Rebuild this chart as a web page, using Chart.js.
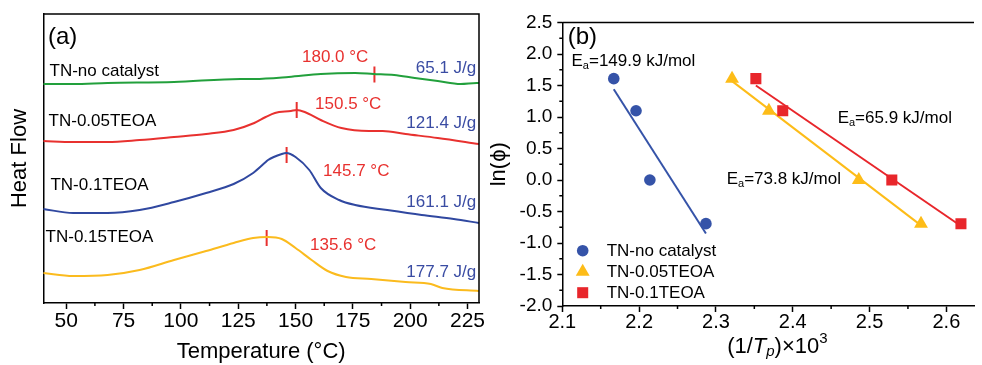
<!DOCTYPE html>
<html>
<head>
<meta charset="utf-8">
<title>DSC curves and Kissinger plot</title>
<script src="https://cdn.jsdelivr.net/npm/chart.js@4.4.1/dist/chart.umd.min.js"></script>
<style>
  html, body { margin: 0; padding: 0; background: #ffffff; overflow: hidden; }
  #panelA { position: absolute; left: 0; top: 0; }
  #panelB { position: absolute; left: 490px; top: 0; }
</style>
</head>
<body>
<canvas id="panelA" width="490" height="365"></canvas>
<canvas id="panelB" width="492" height="365"></canvas>
<script>
var FONT = '"Liberation Sans", Arial, Helvetica, sans-serif';

// ---- (a) DSC curves, heat flow in arbitrary units (curves stacked) ----
var tempTicks = [50, 75, 100, 125, 150, 175, 200, 225];

var noCatTemp = [40, 53, 68, 97, 126, 132, 147, 161, 176, 184, 193, 202, 212, 222, 229, 230];
var noCatFlow = [21.9, 21.9, 22.0, 22.1, 22.4, 22.4, 22.6, 22.9, 23.0, 22.9, 22.8, 22.5, 22.2, 21.9, 22.0, 22.0];

var teoa005Temp = [40, 53, 68, 82, 97, 111, 123, 132, 137, 141, 148, 150.5, 154, 161, 170, 182, 188, 198, 212, 230];
var teoa005Flow = [16.2, 16.1, 16.1, 16.3, 16.6, 16.9, 17.3, 18.0, 18.6, 19.0, 19.2, 19.3, 19.1, 18.3, 17.5, 17.2, 17.2, 16.9, 16.5, 15.9];

var teoa01Temp = [40, 53, 68, 82, 97, 111, 123, 131.5, 137, 138, 144, 146, 150, 156, 161, 169, 176, 190, 205, 219, 230];
var teoa01Flow = [9.4, 9.0, 9.0, 9.3, 10.1, 11.0, 11.9, 13.0, 14.1, 14.3, 14.9, 15.0, 14.6, 13.3, 11.5, 10.3, 9.8, 9.3, 8.8, 8.4, 8.0];

var teoa015Temp = [40, 53, 68, 82, 97, 111, 123, 131.5, 138, 144, 150, 157, 164, 172, 183, 198, 209, 214, 230];
var teoa015Flow = [3.0, 2.7, 2.8, 3.3, 4.3, 5.2, 6.0, 6.5, 6.6, 6.4, 5.5, 4.3, 3.2, 2.6, 2.4, 2.1, 1.9, 1.5, 1.2];

// peak markers (no catalyst, 0.05, 0.1, 0.15 TEOA)
var peakTemp = [184.4, 150.5, 146.1, 137.4];
var peakFlow = [22.85, 19.3, 14.8, 6.5];

// ---- (b) ln(heating rate) vs 1000/Tp ----
var invTicks = [2.1, 2.2, 2.3, 2.4, 2.5, 2.6];
var lnTicks = [-2.0, -1.5, -1.0, -0.5, 0.0, 0.5, 1.0, 1.5, 2.0, 2.5];

var lnRate = [1.609, 1.099, 0.0, -0.693];
var noCatInvT = [2.167, 2.196, 2.214, 2.287];
var teoa005InvT = [2.321, 2.369, 2.486, 2.567];
var teoa01InvT = [2.352, 2.387, 2.529, 2.619];

var noCatFitX = [2.167, 2.287];
var noCatFitY = [1.44, -0.85];
var teoa005FitX = [2.321, 2.567];
var teoa005FitY = [1.57, -0.72];
var teoa01FitX = [2.352, 2.619];
var teoa01FitY = [1.50, -0.73];

var GREEN = '#22a03c', RED = '#e8312f', BLUE = '#3048a0', YELLOW = '#fbbb1e';
var TXTBLUE = '#3a4ca3';
var MBLUE = '#3553a8', MYELLOW = '#fdbc18', MRED = '#e8262b';

Chart.defaults.font.family = FONT;
Chart.defaults.color = '#000';

function xy(xs, ys) {
    return xs.map(function (x, i) { return {x: x, y: ys[i]}; });
}

function midpoints(ticks) {
    var out = [];
    for (var i = 1; i < ticks.length; i++) out.push((ticks[i - 1] + ticks[i]) / 2);
    return out;
}

// parts: [text, size, dy, italic]
function drawParts(ctx, parts, x, y, align, color) {
    var total = 0;
    parts.forEach(function (p) {
        ctx.font = (p[3] ? 'italic ' : '') + p[1] + 'px ' + FONT;
        total += ctx.measureText(p[0]).width;
    });
    var cx = x;
    if (align === 'right') cx = x - total;
    if (align === 'center') cx = x - total / 2;
    ctx.fillStyle = color || '#000';
    ctx.textAlign = 'left';
    ctx.textBaseline = 'middle';
    parts.forEach(function (p) {
        ctx.font = (p[3] ? 'italic ' : '') + p[1] + 'px ' + FONT;
        ctx.fillText(p[0], cx, y + (p[2] || 0));
        cx += ctx.measureText(p[0]).width;
    });
}

function minorTicks(chart, id, values, len) {
    var scale = chart.scales[id];
    var ctx = chart.ctx;
    ctx.save();
    ctx.strokeStyle = '#000';
    ctx.lineWidth = 1.5;
    ctx.beginPath();
    values.forEach(function (v) {
        if (v < scale.min || v > scale.max) return;
        var p = scale.getPixelForValue(v);
        if (scale.isHorizontal()) {
            ctx.moveTo(p, scale.top);
            ctx.lineTo(p, scale.top + len);
        } else {
            ctx.moveTo(scale.right, p);
            ctx.lineTo(scale.right - len, p);
        }
    });
    ctx.stroke();
    ctx.restore();
}

function drawMarker(ctx, style, x, y, r, color) {
    ctx.fillStyle = color;
    ctx.beginPath();
    if (style === 'circle') {
        ctx.arc(x, y, r, 0, Math.PI * 2);
    } else if (style === 'triangle') {
        var a = 0;
        ctx.moveTo(x + Math.sin(a) * r, y - Math.cos(a) * r);
        a += Math.PI * 2 / 3;
        ctx.lineTo(x + Math.sin(a) * r, y - Math.cos(a) * r);
        a += Math.PI * 2 / 3;
        ctx.lineTo(x + Math.sin(a) * r, y - Math.cos(a) * r);
        ctx.closePath();
    } else {
        var s = r * Math.SQRT1_2;
        ctx.rect(x - s, y - s, 2 * s, 2 * s);
    }
    ctx.fill();
}

function axisLook(len) {
    return {
        grid: {display: true, drawOnChartArea: false, drawTicks: true, tickLength: len,
               tickWidth: 1.5, tickColor: '#000', color: '#000'},
        border: {display: true, color: '#000', width: 1.5}
    };
}

function curve(label, xs, ys, color) {
    return {label: label, data: xy(xs, ys), borderColor: color, borderWidth: 2,
            pointRadius: 0, cubicInterpolationMode: 'monotone', fill: false};
}

var peakSets = peakTemp.map(function (t, i) {
    return {label: 'peak', data: [{x: t, y: peakFlow[i] - 0.8}, {x: t, y: peakFlow[i] + 0.8}],
            borderColor: RED, borderWidth: 2, pointRadius: 0};
});

var dscNotes = [
    {parts: [['(a)', 24]], t: 42.0, hf: 26.6, align: 'left', color: '#000'},
    {parts: [['TN-no catalyst', 17]], t: 42.7, hf: 23.2, align: 'left', color: '#000'},
    {parts: [['180.0 °C', 17]], t: 152.8, hf: 24.57, align: 'left', color: RED},
    {parts: [['65.1 J/g', 17]], t: 228.8, hf: 23.47, align: 'right', color: TXTBLUE},
    {parts: [['TN-0.05TEOA', 17]], t: 42.3, hf: 18.2, align: 'left', color: '#000'},
    {parts: [['150.5 °C', 17]], t: 158.5, hf: 19.87, align: 'left', color: RED},
    {parts: [['121.4 J/g', 17]], t: 228.8, hf: 17.97, align: 'right', color: TXTBLUE},
    {parts: [['TN-0.1TEOA', 17]], t: 43.1, hf: 11.8, align: 'left', color: '#000'},
    {parts: [['145.7 °C', 17]], t: 162.0, hf: 13.2, align: 'left', color: RED},
    {parts: [['161.1 J/g', 17]], t: 228.8, hf: 10.03, align: 'right', color: TXTBLUE},
    {parts: [['TN-0.15TEOA', 17]], t: 41.0, hf: 6.6, align: 'left', color: '#000'},
    {parts: [['135.6 °C', 17]], t: 156.3, hf: 5.8, align: 'left', color: RED},
    {parts: [['177.7 J/g', 17]], t: 228.8, hf: 3.03, align: 'right', color: TXTBLUE}
];

var dscDecor = {
    id: 'dscDecor',
    afterDraw: function (chart) {
        var ctx = chart.ctx, a = chart.chartArea;
        ctx.save();
        ctx.strokeStyle = '#000';
        ctx.lineWidth = 1.5;
        ctx.beginPath();
        ctx.moveTo(a.left, a.top);
        ctx.lineTo(a.right, a.top);
        ctx.lineTo(a.right, a.bottom);
        ctx.stroke();
        ctx.restore();
        minorTicks(chart, 'x', midpoints(tempTicks), 3);
        var xs = chart.scales.x, ys = chart.scales.y;
        ctx.save();
        dscNotes.forEach(function (n) {
            drawParts(ctx, n.parts, xs.getPixelForValue(n.t), ys.getPixelForValue(n.hf), n.align, n.color);
        });
        ctx.restore();
    }
};

new Chart(document.getElementById('panelA'), {
    type: 'line',
    data: {
        datasets: [
            curve('TN-no catalyst', noCatTemp, noCatFlow, GREEN),
            curve('TN-0.05TEOA', teoa005Temp, teoa005Flow, RED),
            curve('TN-0.1TEOA', teoa01Temp, teoa01Flow, BLUE),
            curve('TN-0.15TEOA', teoa015Temp, teoa015Flow, YELLOW)
        ].concat(peakSets)
    },
    options: {
        responsive: false,
        animation: false,
        layout: {padding: {top: 14, right: 11, left: 0, bottom: 0}},
        plugins: {legend: {display: false}, tooltip: {enabled: false}},
        scales: {
            x: Object.assign({
                type: 'linear', min: 40, max: 230, bounds: 'data',
                afterBuildTicks: function (s) { s.ticks = tempTicks.map(function (v) { return {value: v}; }); },
                afterFit: function (s) { s.height = 62; },
                ticks: {autoSkip: false, maxRotation: 0, padding: 0, color: '#000',
                        font: {size: 21}, callback: function (v) { return String(v); }},
                title: {display: true, text: 'Temperature (°C)', color: '#000',
                        font: {size: 22}, padding: {top: 0, bottom: 0}}
            }, axisLook(6)),
            y: {
                type: 'linear', min: 0, max: 28.9, bounds: 'data',
                afterFit: function (s) { s.width = 43.3; },
                ticks: {display: false},
                grid: {display: false},
                border: {display: true, color: '#000', width: 1.5},
                title: {display: true, text: 'Heat Flow', color: '#000',
                        font: {size: 22}, padding: {top: 7, bottom: 0}}
            }
        }
    },
    plugins: [dscDecor]
});

// ---- panel (b) ----
var kisNotes = [
    {parts: [['(b)', 24]], x: 2.107, y: 2.262, align: 'left'},
    {parts: [['E', 17], ['a', 11, 5], ['=149.9 kJ/mol', 17]], x: 2.112, y: 1.889, align: 'left'},
    {parts: [['E', 17], ['a', 11, 5], ['=65.9 kJ/mol', 17]], x: 2.4585, y: 0.984, align: 'left'},
    {parts: [['E', 17], ['a', 11, 5], ['=73.8 kJ/mol', 17]], x: 2.314, y: 0.016, align: 'left'}
];

var kisDecor = {
    id: 'kisDecor',
    afterDraw: function (chart) {
        var ctx = chart.ctx, a = chart.chartArea;
        ctx.save();
        ctx.strokeStyle = '#000';
        ctx.lineWidth = 1.5;
        ctx.beginPath();
        ctx.moveTo(a.left, a.top);
        ctx.lineTo(a.right, a.top);
        ctx.stroke();
        ctx.restore();
        minorTicks(chart, 'x', midpoints(invTicks).concat([2.65]), 3);
        minorTicks(chart, 'y', midpoints(lnTicks), 3);
        var xs = chart.scales.x, ys = chart.scales.y;
        ctx.save();
        kisNotes.forEach(function (n) {
            drawParts(ctx, n.parts, xs.getPixelForValue(n.x), ys.getPixelForValue(n.y), n.align, '#000');
        });
        // axis title with italic subscript and superscript
        drawParts(ctx, [['(1/', 22], ['T', 22, 0, true], ['p', 15, 5, true], [')×10', 22], ['3', 15, -8]],
                  xs.getPixelForValue(2.38), a.bottom + 41, 'center', '#000');
        // legend
        var rowY = a.bottom - 55.3;
        chart.data.datasets.slice(0, 3).forEach(function (ds, i) {
            var yy = rowY + i * 21;
            drawMarker(ctx, ds.pointStyle, a.left + 20.4, yy, ds.pointRadius, ds.backgroundColor);
            drawParts(ctx, [[ds.label, 17]], a.left + 44.4, yy + 0.5, 'left', '#000');
        });
        ctx.restore();
    }
};

function markers(label, xs, style, r, color) {
    return {label: label, data: xy(xs, lnRate), pointStyle: style, pointRadius: r,
            backgroundColor: color, borderColor: color, borderWidth: 0, showLine: false, order: 0};
}

function fitLine(xs, ys, color) {
    return {label: 'fit', data: xy(xs, ys), showLine: true, pointRadius: 0,
            borderColor: color, borderWidth: 2, order: 1};
}

new Chart(document.getElementById('panelB'), {
    type: 'scatter',
    data: {
        datasets: [
            markers('TN-no catalyst', noCatInvT, 'circle', 5.8, MBLUE),
            markers('TN-0.05TEOA', teoa005InvT, 'triangle', 8, MYELLOW),
            markers('TN-0.1TEOA', teoa01InvT, 'rect', 7.8, MRED),
            fitLine(noCatFitX, noCatFitY, MBLUE),
            fitLine(teoa005FitX, teoa005FitY, MYELLOW),
            fitLine(teoa01FitX, teoa01FitY, MRED)
        ]
    },
    options: {
        responsive: false,
        animation: false,
        layout: {padding: {top: 22.5, right: 0, left: 0, bottom: 0}},
        plugins: {legend: {display: false}, tooltip: {enabled: false}},
        scales: {
            x: Object.assign({
                type: 'linear', min: 2.1, max: 2.636, bounds: 'data',
                afterBuildTicks: function (s) { s.ticks = invTicks.map(function (v) { return {value: v}; }); },
                afterFit: function (s) { s.height = 59; },
                ticks: {autoSkip: false, maxRotation: 0, padding: 0, color: '#000',
                        font: {size: 20, lineHeight: 1.05}, callback: function (v) { return v.toFixed(1); }},
                title: {display: false}
            }, axisLook(6)),
            y: Object.assign({
                type: 'linear', min: -2.0, max: 2.5, bounds: 'data',
                afterBuildTicks: function (s) { s.ticks = lnTicks.map(function (v) { return {value: v}; }); },
                afterFit: function (s) { s.width = 72.3; },
                ticks: {autoSkip: false, padding: 5, color: '#000',
                        font: {size: 19}, callback: function (v) { return v.toFixed(1); }},
                title: {display: true, text: 'ln(ϕ)', color: '#000',
                        font: {size: 22}, padding: {top: -4, bottom: 0}}
            }, axisLook(5))
        }
    },
    plugins: [kisDecor]
});
</script>
</body>
</html>
